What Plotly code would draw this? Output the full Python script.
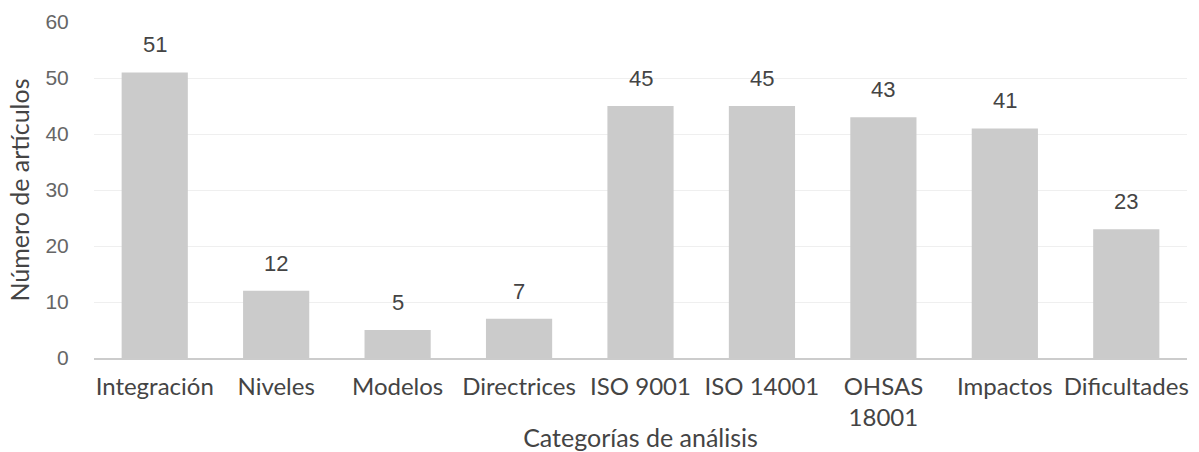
import plotly.graph_objects as go

categories = ["Integración", "Niveles", "Modelos", "Directrices", "ISO 9001",
              "ISO 14001", "OHSAS<br>18001", "Impactos", "Dificultades"]
values = [51, 12, 5, 7, 45, 45, 43, 41, 23]
y_ticks = [0, 10, 20, 30, 40, 50, 60]

fig = go.Figure()
fig.add_trace(go.Bar(x=categories, y=values, marker=dict(color="#cbcbcb", line=dict(width=0)),
                     hoverinfo="x+y"))

for c, v in zip(categories, values):
    fig.add_annotation(x=c, y=v, text=str(v), showarrow=False, yanchor="bottom", yshift=13,
                       font=dict(family="Liberation Sans, Arial", size=22, color="#444444"))

fig.update_layout(
    width=1199, height=452,
    margin=dict(l=94, r=12, t=22, b=94),
    plot_bgcolor="white", paper_bgcolor="white",
    bargap=0.455, showlegend=False,
)
fig.update_yaxes(range=[0, 60], tickvals=y_ticks, showgrid=True, gridcolor="#efefef", gridwidth=1,
                 zeroline=False, showline=False, automargin=False,
                 ticks="outside", ticklen=20, tickcolor="rgba(0,0,0,0)",
                 tickfont=dict(family="Liberation Sans, Arial", size=21, color="#666666"),
                 title=dict(text="Número de artículos", standoff=8,
                            font=dict(family="Lato", size=25, color="#444444")))
fig.update_xaxes(showline=True, linecolor="#cccccc", linewidth=2, showgrid=False, automargin=False,
                 ticks="outside", ticklen=6, tickcolor="rgba(0,0,0,0)",
                 tickfont=dict(family="Lato", size=24, color="#444444"),
                 title=dict(text="Categorías de análisis", standoff=6,
                            font=dict(family="Lato", size=25, color="#444444")))

fig.write_html("out.html", config={"displayModeBar": False},
               post_script="document.body.style.margin='0';")
